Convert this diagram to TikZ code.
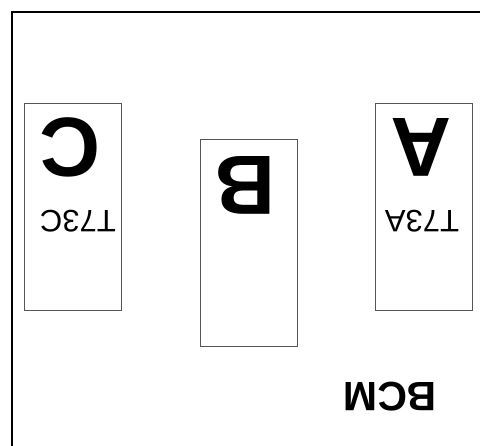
\documentclass[tikz,border=0pt]{standalone}
\usepackage{fontspec}
\setmainfont{Liberation Sans}
\definecolor{bcmframe}{RGB}{0,0,0}
\definecolor{bcmgray}{RGB}{85,85,85}
\definecolor{bcmtext}{RGB}{0,0,0}

\begin{document}
\begin{tikzpicture}[
  x=1pt,
  y=-1pt,
  every node/.style={inner sep=0pt, outer sep=0pt},
  slotbox/.style={draw=bcmgray, line width=0.8pt, minimum width=97pt, minimum height=207pt},
  bigletter/.style={font=\bfseries\fontsize{84}{84}\selectfont, text=bcmtext, rotate=180},
  tag/.style={font=\fontsize{31}{31}\selectfont, text=bcmtext, rotate=180},
  title/.style={font=\bfseries\fontsize{41}{41}\selectfont, text=bcmtext, rotate=180}
]

  \path[use as bounding box] (0,0) rectangle (480,446);

  % Outer frame
  \coordinate (frameBL) at (12,446);
  \coordinate (frameTL) at (12,12);
  \coordinate (frameTR) at (480,12);
  \draw[bcmframe, line width=1.7pt] (frameBL) -- (frameTL) -- (frameTR);

  % Slots
  \node[slotbox] (slotC) at (73,206.5) {};
  \node[slotbox] (slotB) at (248.5,243) {};
  \node[slotbox] (slotA) at (423.5,206.5) {};

  \node[bigletter] (letterC) at (70,147.5) {C};
  \node[tag] (tagC) at (78,221.5) {T73C};

  \node[bigletter] (letterB) at (245,185) {B};

  \node[bigletter] (letterA) at (421,147.5) {A};
  \node[tag] (tagA) at (422,221.5) {T73A};

  % Board label
  \node[title] (board) at (390,397) {BCM};

\end{tikzpicture}
\end{document}
